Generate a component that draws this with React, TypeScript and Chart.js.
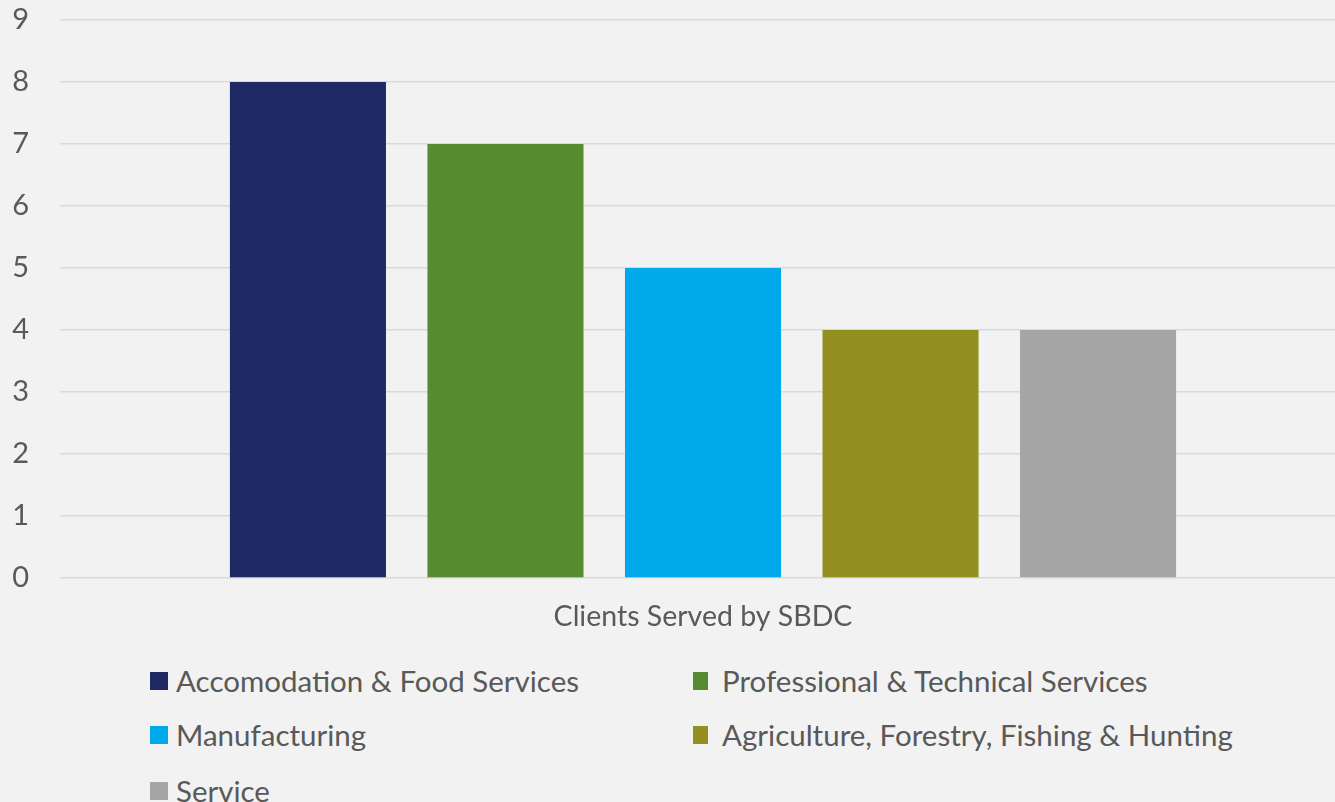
import React, { useEffect, useRef } from "react";
import { Chart, registerables } from "chart.js";

Chart.register(...registerables);

const categories = ["Clients Served by SBDC"];
const seriesNames = [
  "Accomodation & Food Services",
  "Professional & Technical Services",
  "Manufacturing",
  "Agriculture, Forestry, Fishing & Hunting",
  "Service",
];
const seriesValues = [[8], [7], [5], [4], [4]];
const seriesColors = ["#1F2963", "#568B2F", "#00A9E9", "#948F21", "#A6A6A6"];
const yTicks = [0, 1, 2, 3, 4, 5, 6, 7, 8, 9];

const FONT = "Lato, 'Open Sans', sans-serif";
const TEXT = "#595959";

const legendLayout = [
  { left: 150, top: 672, w: 18, textLeft: 176 },
  { left: 693, top: 672, w: 15, textLeft: 722 },
  { left: 150, top: 726, w: 18, textLeft: 176 },
  { left: 693, top: 726, w: 15, textLeft: 722 },
  { left: 150, top: 782, w: 18, textLeft: 176 },
];

export default function App() {
  const ref = useRef<HTMLCanvasElement | null>(null);

  useEffect(() => {
    if (!ref.current) return;
    const chart = new Chart(ref.current, {
      type: "bar",
      data: {
        labels: categories,
        datasets: seriesNames.map((name, i) => ({
          label: name,
          data: seriesValues[i],
          backgroundColor: seriesColors[i],
          borderWidth: 0,
          categoryPercentage: 0.768,
          barPercentage: 0.79,
        })),
      },
      options: {
        animation: false,
        responsive: false,
        maintainAspectRatio: false,
        layout: { padding: { top: 20, left: 0, right: 0, bottom: 0 } },
        plugins: {
          legend: { display: false },
          tooltip: { enabled: false },
        },
        scales: {
          x: {
            grid: { display: false, drawTicks: false, tickLength: 0 },
            border: { display: false },
            ticks: {
              color: TEXT,
              font: { family: FONT, size: 28.5 },
              padding: 22,
            },
            afterFit: (s: any) => {
              s.height = 72;
              s.paddingLeft = 0;
              s.paddingRight = 0;
            },
          },
          y: {
            min: 0,
            max: 9,
            afterBuildTicks: (s: any) => {
              s.ticks = yTicks.map((v) => ({ value: v }));
            },
            grid: {
              color: "#D9D9D9",
              lineWidth: 1.5,
              drawTicks: false,
              tickLength: 0,
            },
            border: { display: false },
            ticks: {
              color: TEXT,
              font: { family: FONT, size: 29 },
              padding: 31,
            },
            afterFit: (s: any) => {
              s.width = 60;
              s.paddingTop = 0;
              s.paddingBottom = 0;
            },
          },
        },
      },
    });
    return () => chart.destroy();
  }, []);

  return (
    <div
      style={{
        position: "fixed",
        left: 0,
        top: 0,
        width: 1335,
        height: 802,
        overflow: "hidden",
        background: "#F2F2F2",
      }}
    >
      <canvas
        ref={ref}
        width={1346}
        height={650}
        style={{ position: "absolute", left: 0, top: 0, width: 1346, height: 650 }}
      />
      {seriesNames.map((name, i) => {
        const l = legendLayout[i];
        return (
          <React.Fragment key={name}>
            <div
              style={{
                position: "absolute",
                left: l.left,
                top: l.top,
                width: l.w,
                height: 18,
                background: seriesColors[i],
              }}
            />
            <div
              style={{
                position: "absolute",
                left: l.textLeft,
                top: l.top + 9 - 20,
                height: 40,
                lineHeight: "40px",
                fontFamily: FONT,
                fontSize: 29.5,
                color: TEXT,
                whiteSpace: "nowrap",
              }}
            >
              {name}
            </div>
          </React.Fragment>
        );
      })}
    </div>
  );
}
